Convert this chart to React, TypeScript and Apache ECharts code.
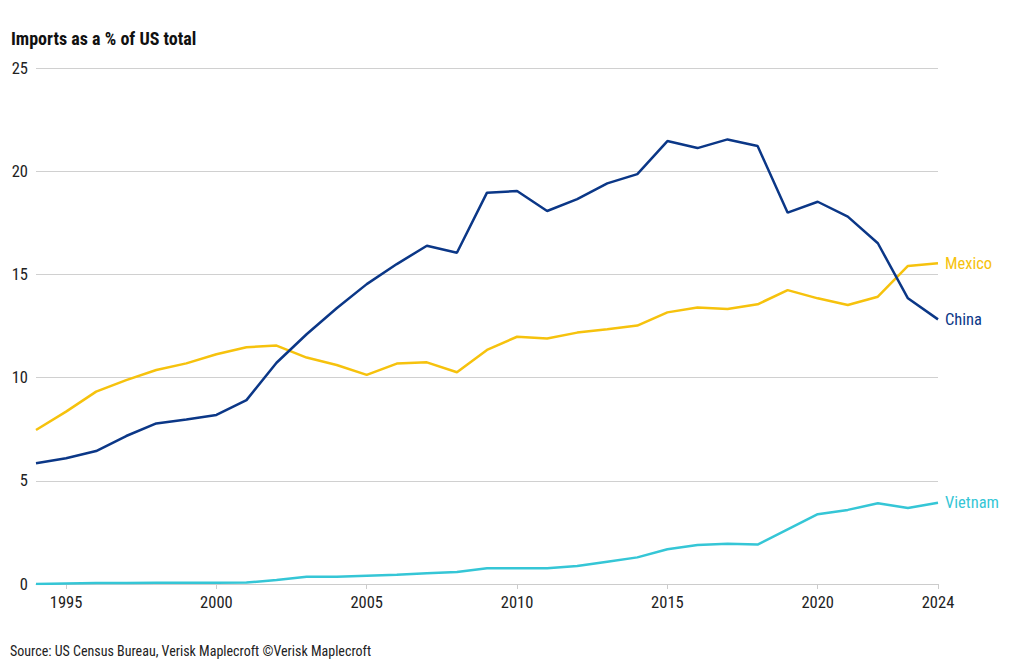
import React, { useEffect, useRef } from "react";
import * as echarts from "echarts";

const years: string[] = [];
for (let y = 1994; y <= 2024; y++) years.push(String(y));

const china = [5.85, 6.09, 6.44, 7.17, 7.78, 7.97, 8.19, 8.91, 10.72, 12.1, 13.36, 14.53, 15.5, 16.39, 16.05, 18.96, 19.04, 18.07, 18.65, 19.41, 19.86, 21.46, 21.12, 21.54, 21.22, 17.99, 18.52, 17.8, 16.51, 13.84, 12.82];
const mexico = [7.46, 8.35, 9.32, 9.88, 10.37, 10.69, 11.13, 11.47, 11.55, 10.97, 10.61, 10.13, 10.68, 10.74, 10.26, 11.34, 11.98, 11.89, 12.18, 12.34, 12.52, 13.16, 13.4, 13.32, 13.55, 14.24, 13.84, 13.52, 13.92, 15.41, 15.54];
const vietnam = [0.0, 0.03, 0.05, 0.05, 0.06, 0.06, 0.06, 0.07, 0.19, 0.35, 0.35, 0.4, 0.45, 0.52, 0.58, 0.76, 0.76, 0.76, 0.87, 1.08, 1.29, 1.68, 1.89, 1.95, 1.91, 2.65, 3.38, 3.59, 3.91, 3.68, 3.94];

const FONT = "'Roboto Condensed', 'Liberation Sans Narrow', 'DejaVu Sans Condensed', Roboto, sans-serif";

const showYear = (i: number) => {
  const y = 1994 + i;
  return y % 5 === 0 || y === 2024;
};

export default function App() {
  const ref = useRef<HTMLDivElement>(null);
  useEffect(() => {
    document.body.style.margin = "0";
    if (!ref.current) return;
    const chart = echarts.init(ref.current, undefined, { renderer: "svg" });
    const mk = (name: string, data: number[], color: string) => ({
      name,
      type: "line",
      data,
      symbol: "none",
      lineStyle: { color, width: 2.5 },
      itemStyle: { color },
      endLabel: {
        show: true,
        formatter: name,
        color,
        fontFamily: FONT,
        fontSize: 16.5,
        distance: 7,
      },
    });
    chart.setOption({
      animation: false,
      textStyle: { fontFamily: FONT },
      title: {
        text: "Imports as a % of US total",
        left: 6,
        top: 24,
        textStyle: { fontFamily: FONT, fontSize: 18, fontWeight: "bold", color: "#111" },
      },
      graphic: [
        {
          type: "text",
          left: 10,
          top: 644,
          style: {
            text: "Source: US Census Bureau, Verisk Maplecroft ©Verisk Maplecroft",
            fontFamily: FONT,
            fontSize: 14,
            fill: "#222",
          },
        },
      ],
      grid: { left: 36, right: 82, top: 68, bottom: 87 },
      xAxis: {
        type: "category",
        data: years,
        boundaryGap: false,
        axisLine: { lineStyle: { color: "#ccc" } },
        axisTick: { show: true, interval: (i: number) => showYear(i), length: 5, lineStyle: { color: "#ccc" } },
        axisLabel: { interval: (i: number) => showYear(i), color: "#222", fontSize: 16.5, margin: 10, fontFamily: FONT },
        splitLine: { show: false },
      },
      yAxis: {
        type: "value",
        min: 0,
        max: 25,
        interval: 5,
        axisLine: { show: false },
        axisTick: { show: false },
        axisLabel: { color: "#222", fontSize: 16.5, margin: 8, fontFamily: FONT },
        splitLine: { lineStyle: { color: "#d0d0d0" } },
      },
      series: [
        mk("Vietnam", vietnam, "#35c6d6"),
        mk("Mexico", mexico, "#f6c20d"),
        mk("China", china, "#0b3787"),
      ],
    });
    return () => chart.dispose();
  }, []);
  return <div ref={ref} style={{ width: 1020, height: 671 }} />;
}
